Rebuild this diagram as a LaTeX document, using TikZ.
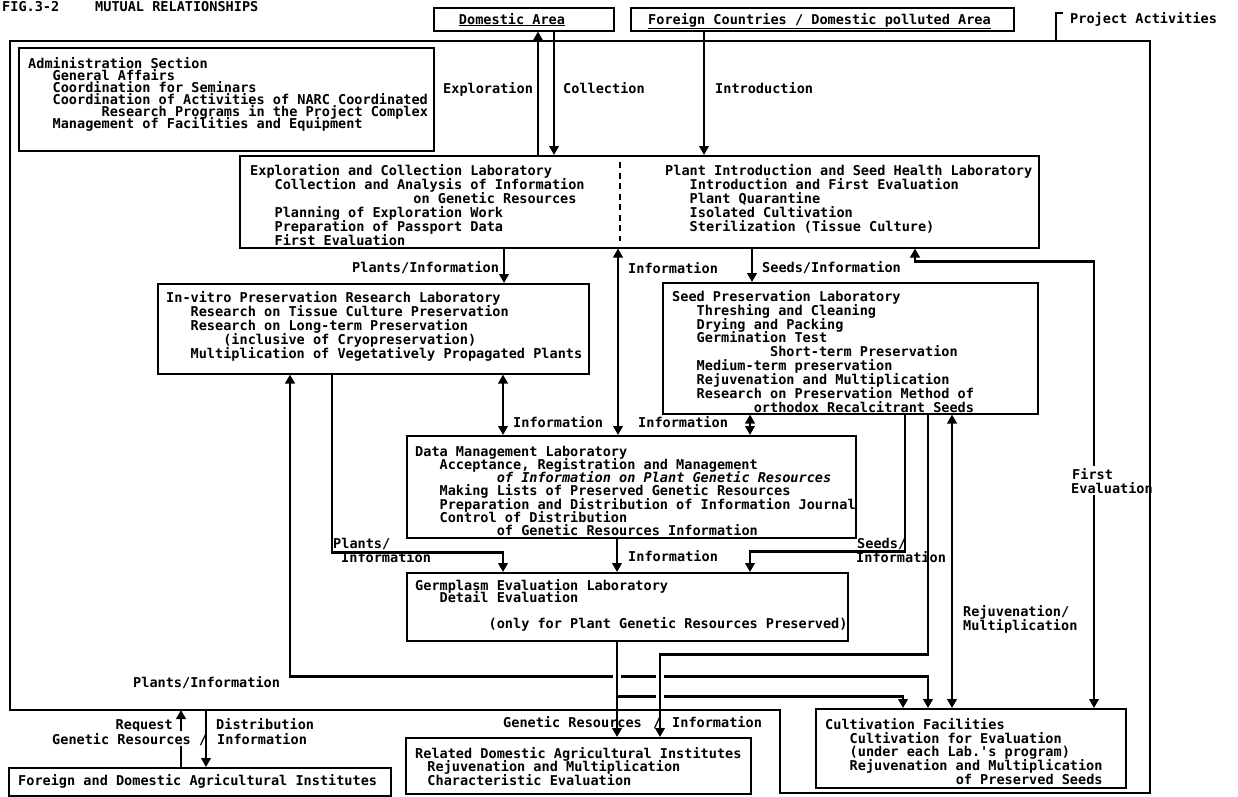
\documentclass[tikz,border=0pt]{standalone}
\usepackage{fontspec}
\newfontfamily\dmfont{DejaVu Sans Mono}
\usetikzlibrary{arrows.meta}
\newlength\chw \setlength\chw{8.16pt}
\newcommand\ii[1]{\hspace*{#1\chw}}
\newcommand\lf[1]{\dmfont\bfseries\fontsize{13.55}{#1}\selectfont\lineskiplimit=-50pt\relax}
\newcommand\fs{\rule{0pt}{11pt}}
\tikzset{ht/.tip={Triangle[width=9.5pt,length=9pt]}}
\begin{document}
\begin{tikzpicture}[x=1pt,y=-1pt,
  box/.style={draw, line width=1.5pt, inner sep=0pt, anchor=north west},
  txt/.style={anchor=north west, inner sep=0pt, align=left},
  lbl/.style={anchor=base west, inner sep=0pt, font=\lf{14}},
  wl/.style={lbl, fill=white, inner ysep=2pt},
  conn/.style={line width=2.2pt},
  arr/.style={conn, -ht},
  darr/.style={conn, ht-ht},
  under/.style={preaction={draw=white, line width=8pt, arrows=-}},
  frame/.style={line width=1.6pt}]
\useasboundingbox (0,0) rectangle (1238,796);

% title
\node[lbl] (fig) at (2,11.5) {FIG.3-2};
\node[lbl] (mut) at (95,11.5) {MUTUAL RELATIONSHIPS};

% boxes
\node[box, minimum width=180pt, minimum height=23pt] (dom) at (433,7) {};
\node[box, minimum width=383pt, minimum height=23pt] (for) at (630,7) {};
\node[box, minimum width=415pt, minimum height=103pt] (adm) at (18,47) {};
\node[box, minimum width=799pt, minimum height=92pt] (comb) at (239,155) {};
\node[box, minimum width=431pt, minimum height=90pt] (inv) at (157,283) {};
\node[box, minimum width=375pt, minimum height=131pt] (seed) at (662,282) {};
\node[box, minimum width=449pt, minimum height=102pt] (data) at (406,435) {};
\node[box, minimum width=441pt, minimum height=68pt] (germ) at (406,572) {};
\node[box, minimum width=345pt, minimum height=56pt] (rel) at (405,737) {};
\node[box, minimum width=382pt, minimum height=28pt] (fdai) at (8,767) {};
\node[box, minimum width=310pt, minimum height=79pt] (cult) at (815,708) {};

% box texts
\node[lbl, anchor=base] (domt) at (512,24) {\underline{Domestic Area}};
\node[lbl] (fort) at (648,24) {\underline{Foreign Countries / Domestic polluted Area}};
\node[lbl] (pa) at (1070,23) {Project Activities};

\node[txt, font=\lf{12}] (admt) at (28,57) {\fs Administration Section\\
\ii2 General Affairs\\
\ii2 Coordination for Seminars\\
\ii2 Coordination of Activities of NARC Coordinated\\
\ii8 Research Programs in the Project Complex\\
\ii2 Management of Facilities and Equipment};

\node[txt, font=\lf{14}] (expt) at (250,164) {\fs Exploration and Collection Laboratory\\
\ii2 Collection and Analysis of Information\\
\ii{20}on Genetic Resources\\
\ii2 Planning of Exploration Work\\
\ii2 Preparation of Passport Data\\
\ii2 First Evaluation};

\node[txt, font=\lf{14}] (intt) at (665,164) {\fs Plant Introduction and Seed Health Laboratory\\
\ii2 Introduction and First Evaluation\\
\ii2 Plant Quarantine\\
\ii2 Isolated Cultivation\\
\ii2 Sterilization (Tissue Culture)};

\node[txt, font=\lf{14}] (invt) at (166,291) {\fs In-vitro Preservation Research Laboratory\\
\ii2 Research on Tissue Culture Preservation\\
\ii2 Research on Long-term Preservation\\
\ii6 (inclusive of Cryopreservation)\\
\ii2 Multiplication of Vegetatively Propagated Plants};

\node[txt, font=\lf{13.9}] (seedt) at (672,290) {\fs Seed Preservation Laboratory\\
\ii2 Threshing and Cleaning\\
\ii2 Drying and Packing\\
\ii2 Germination Test\\
\ii{12}Short-term Preservation\\
\ii2 Medium-term preservation\\
\ii2 Rejuvenation and Multiplication\\
\ii2 Research on Preservation Method of\\
\ii9 orthodox Recalcitrant Seeds};

\node[txt, font=\lf{13.2}] (datat) at (415,445) {\fs Data Management Laboratory\\
\ii2 Acceptance, Registration and Management\\
\ii{10}\textit{of Information on Plant Genetic Resources}\\
\ii2 Making Lists of Preserved Genetic Resources\\
\ii2 Preparation and Distribution of Information Journal\\
\ii2 Control of Distribution\\
\ii{10}of Genetic Resources Information};

\node[txt, font=\lf{12.7}] (germt) at (415,579) {\fs Germplasm Evaluation Laboratory\\
\ii2 Detail Evaluation\\[12.7pt]
\ii8 (only for Plant Genetic Resources Preserved)};

\node[txt, font=\lf{13.5}] (relt) at (415,747) {\fs Related Domestic Agricultural Institutes\\
\ii{1.5}Rejuvenation and Multiplication\\
\ii{1.5}Characteristic Evaluation};

\node[lbl] (fdait) at (18,785) {Foreign and Domestic Agricultural Institutes};

\node[txt, font=\lf{13.8}] (cultt) at (825,718) {\fs Cultivation Facilities\\
\ii2 Cultivation for Evaluation\\
\ii2 (under each Lab.'s program)\\
\ii2 Rejuvenation and Multiplication\\
\ii{16}of Preserved Seeds};

\draw[line width=1.6pt, dash pattern=on 6pt off 4.5pt] (620,162) -- (620,241);

% connectors
\coordinate (fb) at (10,710);
\draw[arr] (comb.north -| 538,0) -- (dom.south -| 538,0);
\draw[arr] (dom.south -| 554,0) -- (comb.north -| 554,0);
\draw[arr] (for.south -| 704,0) -- (comb.north -| 704,0);
\draw[arr] (comb.south -| 504,0) -- (inv.north -| 504,0);
\draw[darr] (comb.south -| 618,0) -- (data.north -| 618,0);
\draw[arr] (comb.south -| 752,0) -- (seed.north -| 752,0);
\draw[darr] (comb.south -| 915,0) -- ++(0,13) -| (cult.north -| 1094,0);
\draw[darr] (inv.south -| 503,0) -- (data.north -| 503,0);
\draw[darr] (seed.south -| 750,0) -- (data.north -| 750,0);
\draw[arr] (inv.south -| 332,0) -- ++(0,178) -| (germ.north -| 503,0);
\draw[arr] (data.south -| 617,0) -- (germ.north -| 617,0);
\draw[arr] (seed.south -| 905,0) -- ++(0,137) -| (germ.north -| 750,0);
\draw[darr] (seed.south -| 952,0) -- (cult.north -| 952,0);
\draw[darr] (inv.south -| 290,0) -- ++(0,302) -| (cult.north -| 928,0);
\draw[arr, under] (germ.south -| 617,0) -- (rel.north -| 617,0);
\draw[arr] (germ.south -| 617,0) -- ++(0,55) -| (cult.north -| 903,0);
\draw[arr, under] (seed.south -| 928,0) -- ++(0,240) -| (rel.north -| 660,0);
\draw[arr] (fdai.north -| 181,0) -- (fb -| 181,0);
\draw[arr] (fb -| 206,0) -- (fdai.north -| 206,0);

% labels
\node[lbl] (lexp) at (443,93.5) {Exploration};
\node[lbl] (lcol) at (563,93.5) {Collection};
\node[lbl] (lint) at (715,93.5) {Introduction};
\node[lbl] (lpi1) at (352,272.5) {Plants/Information};
\node[lbl] (lin1) at (628,273) {Information};
\node[lbl] (lsi1) at (762,272.5) {Seeds/Information};
\node[lbl] (lin2) at (513,427) {Information};
\node[lbl] (lin3) at (638,427) {Information};
\node[lbl] (lpl2) at (333,548) {Plants/};
\node[lbl] (lpi2) at (341,562) {Information};
\node[lbl] (lin4) at (628,561) {Information};
\node[lbl] (lsd2) at (857,548) {Seeds/};
\node[lbl] (lsi2) at (856,562) {Information};
\node[lbl] (lrj1) at (963,616) {Rejuvenation/};
\node[lbl] (lrj2) at (963,630) {Multiplication};
\node[wl] (lfe1) at (1072,479) {First};
\node[wl] (lfe2) at (1071,493) {Evaluation};
\node[lbl] (lpi3) at (133,687) {Plants/Information};
\node[lbl, anchor=base east] (lreq) at (173,729) {Request};
\node[wl] (lgr1) at (52,744) {Genetic Resources};
\node[lbl] (lsl1) at (199,744) {/};
\node[lbl] (ldis) at (216,729) {Distribution};
\node[lbl] (lin5) at (217,744) {Information};
\node[lbl] (lgr2) at (503,727) {Genetic Resources};
\node[lbl] (lsl2) at (653,727) {/};
\node[lbl] (lin6) at (672,727) {Information};

% frame
\draw[frame] (fb) -- (10,41) -- (1150,41) -- (1150,793) -- (780,793) -- (780,710) -- cycle;
\draw[frame] (1056,41) -- (1056,13) -- (1063,13);
\end{tikzpicture}
\end{document}
